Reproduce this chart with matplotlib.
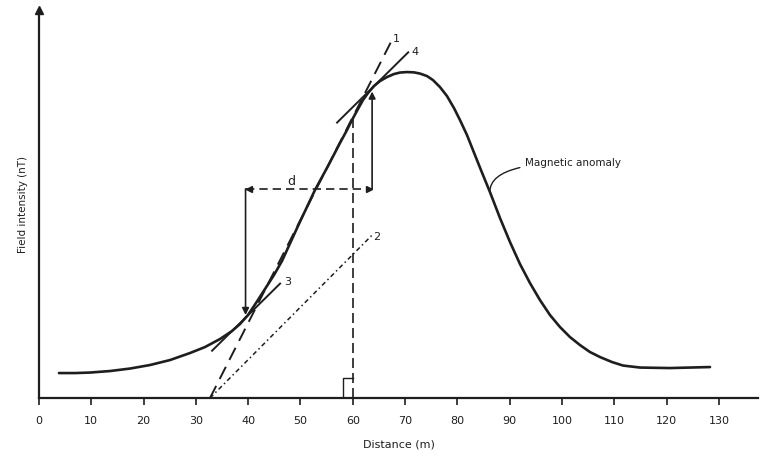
import numpy as np
import matplotlib.pyplot as plt

# magnetic anomaly profile (distance in m, field in arbitrary units)
dist = [3.82, 6.88, 9.75, 13.58, 17.40, 21.22, 25.05, 28.87, 31.74, 34.61, 36.90,
        38.43, 39.96, 41.49, 43.21, 44.93, 46.46, 49.52, 52.77, 55.26, 57.55, 58.89,
        59.85, 60.99, 61.95, 62.91, 64.05, 65.20, 66.54, 67.88, 69.02, 70.36, 71.70,
        72.85, 74.19, 75.33, 76.67, 78.01, 79.35, 80.50, 81.84, 82.98, 84.51, 86.23,
        88.15, 90.06, 91.97, 93.88, 95.79, 97.71, 99.62, 101.53, 103.44, 105.35,
        107.27, 109.56, 111.66, 114.91, 120.65, 128.30]
field = [6.44, 6.44, 6.57, 6.96, 7.60, 8.51, 9.79, 11.60, 13.14, 15.21, 17.27,
         19.07, 21.39, 24.48, 28.09, 31.70, 35.31, 44.33, 53.61, 59.79, 65.72, 69.07,
         71.65, 74.48, 76.80, 78.61, 80.41, 81.70, 82.73, 83.51, 83.89, 84.02, 83.94,
         83.63, 82.99, 81.96, 80.15, 77.84, 74.74, 71.65, 67.78, 63.92, 58.76, 53.09,
         46.39, 40.21, 34.54, 29.64, 25.26, 21.39, 18.30, 15.72, 13.66, 11.86,
         10.57, 9.28, 8.38, 7.86, 7.73, 7.99]

# construction lines (start, end) in data units
line1_x, line1_y = [32.7, 67.5], [0, 92.3]      # max-slope tangent
line2_x, line2_y = [32.7, 63.7], [0, 42.0]      # half slope
line3_x, line3_y = [33.1, 46.1], [12.2, 29.5]   # half-slope tangent, lower
line4_x, line4_y = [57.0, 70.6], [71.0, 89.1]   # half-slope tangent, upper
x_vert = 60
vert_top = 73.5
d_left, d_right, d_y = 39.5, 63.7, 53.9
p3_y, p4_y = 21.4, 79.0

xticks = list(range(0, 131, 10))

ink = "#1e1e1e"
fig = plt.figure(figsize=(7.61, 4.57), dpi=100)
ax = fig.add_axes([0.0512, 0.129, 0.945, 0.849])
ax.set_xlim(0, 137.5)
ax.set_ylim(0, 100)

for s in ["top", "right"]:
    ax.spines[s].set_visible(False)
for s in ["left", "bottom"]:
    ax.spines[s].set_linewidth(1.6)
    ax.spines[s].set_color(ink)
ax.plot(0, 1, marker="^", color=ink, markersize=6, transform=ax.transAxes, clip_on=False)

ax.set_xticks(xticks)
ax.set_yticks([])
ax.tick_params(axis="x", direction="out", length=5, width=1.2, colors=ink,
               labelsize=8, pad=8)
ax.set_xlabel("Distance (m)", fontsize=8, color=ink, labelpad=10)
ax.set_ylabel("Field intensity (nT)", fontsize=7.5, color=ink, labelpad=8)

ax.plot(dist, field, color=ink, lw=1.9, solid_capstyle="round", solid_joinstyle="round")

ax.plot(line1_x, line1_y, color=ink, lw=1.4, dashes=(7, 4))
ax.plot(line2_x, line2_y, color=ink, lw=1.1, dashes=(3, 2, 1, 2))
ax.plot(line3_x, line3_y, color=ink, lw=1.4)
ax.plot(line4_x, line4_y, color=ink, lw=1.4)

ax.plot([x_vert, x_vert], [0, vert_top], color=ink, lw=1.2, dashes=(6, 3))
ax.plot([58.2, 58.2, x_vert], [0, 5.1, 5.1], color=ink, lw=1.0)

# d construction
ax.plot([d_left, d_right], [d_y, d_y], color=ink, lw=1.2, dashes=(5, 3))
ax.plot(d_left + 0.6, d_y, marker="<", color=ink, markersize=5)
ax.plot(d_right - 0.6, d_y, marker=">", color=ink, markersize=5)
ax.annotate("", xy=(d_left, p3_y), xytext=(d_left, d_y),
            arrowprops=dict(arrowstyle="-|>", color=ink, lw=1.2,
                            mutation_scale=10, shrinkA=0, shrinkB=0))
ax.annotate("", xy=(d_right, p4_y), xytext=(d_right, d_y),
            arrowprops=dict(arrowstyle="-|>", color=ink, lw=1.2,
                            mutation_scale=10, shrinkA=0, shrinkB=0))

ax.text(48.2, 55.9, "d", fontsize=9, color=ink, ha="center", va="center")
ax.text(68.4, 92.5, "1", fontsize=8, color=ink, ha="center", va="center")
ax.text(71.9, 89.2, "4", fontsize=8, color=ink, ha="center", va="center")
ax.text(64.6, 41.5, "2", fontsize=8, color=ink, ha="center", va="center")
ax.text(47.6, 29.9, "3", fontsize=8, color=ink, ha="center", va="center")

ax.annotate("Magnetic anomaly", xy=(86.2, 53.1), xytext=(93.0, 60.6),
            fontsize=7.5, color=ink, va="center", ha="left",
            arrowprops=dict(arrowstyle="-", color=ink, lw=1.0,
                            connectionstyle="angle3,angleA=0,angleB=90",
                            shrinkA=2, shrinkB=0))

fig.savefig("out.png", dpi=100)
